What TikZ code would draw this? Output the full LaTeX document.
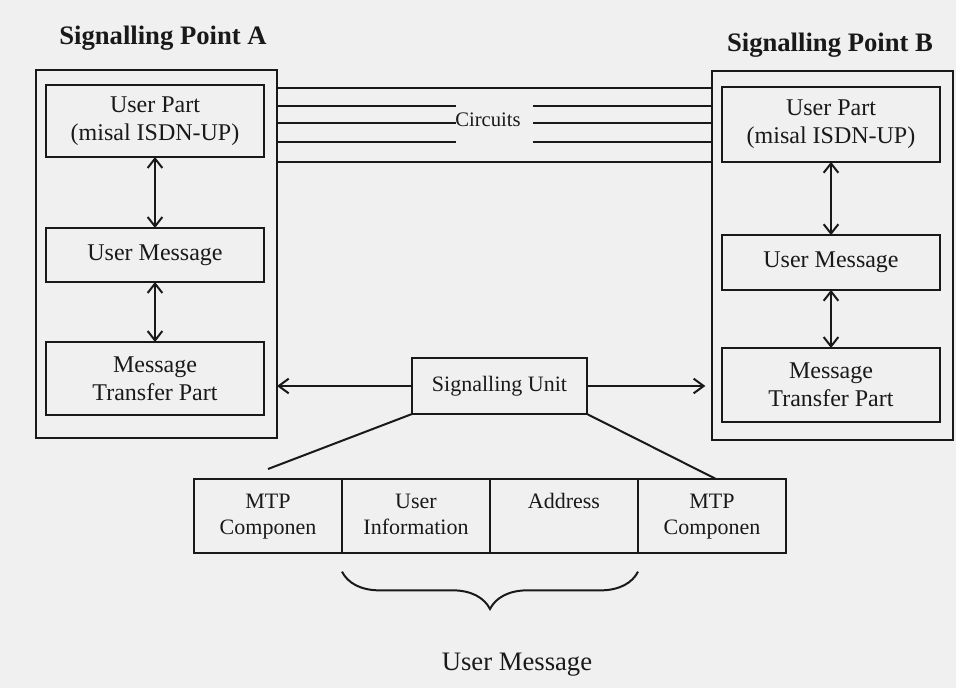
\documentclass[tikz,border=0pt]{standalone}
\usepackage{fontspec}
\setmainfont{Liberation Serif}
\usetikzlibrary{positioning, arrows.meta, decorations.pathreplacing}
\definecolor{paper}{RGB}{240,240,240}
\definecolor{ink}{RGB}{25,25,25}
\tikzstyle{point} = [rectangle, draw=ink, line width=1.5pt, outer sep=0pt, minimum width=180.75pt, minimum height=276pt]
\tikzstyle{layer} = [rectangle, draw=ink, line width=1.5pt, outer sep=0pt, minimum width=163pt, align=center, text=ink, font=\fontsize{18}{21}\selectfont]
\tikzstyle{field} = [rectangle, draw=ink, line width=1.5pt, outer sep=0pt, minimum width=111pt, minimum height=55.5pt, align=center, text=ink, font=\fontsize{16.5}{19.5}\selectfont]
\tikzstyle{title} = [text=ink, font=\fontsize{20}{24}\selectfont\bfseries]
\tikzstyle{wire} = [draw=ink, line width=1.5pt]
\tikzstyle{arrow} = [wire, {Straight Barb[length=7pt,width=11pt]}-{Straight Barb[length=7pt,width=11pt]}]
\tikzstyle{sarrow} = [wire, -{Straight Barb[length=7.5pt,width=11pt]}]

\begin{document}
\begin{tikzpicture}[x=0.75pt, y=-0.75pt]
\useasboundingbox[fill=paper] (0,0) rectangle (956,688);

% signalling point A
\node (titleA) [title] at (163,38) {Signalling Point A};
\node (pointA) [point] at (156.5,254) {};
\node (upA) [layer, minimum height=54pt] at (155,121) {User Part\\(misal ISDN-UP)};
\node (umA) [layer, minimum height=40.5pt] at (155,255) {User Message};
\node (mtpA) [layer, minimum height=54.75pt] at (155,378.5) {Message\\Transfer Part};

% signalling point B
\node (titleB) [title] at (830,45) {Signalling Point B};
\node (pointB) [point, minimum height=276.75pt] at (832.5,255.5) {};
\node (upB) [layer, minimum height=56pt] at (831,124.5) {User Part\\(misal ISDN-UP)};
\node (umB) [layer, minimum height=41pt] at (831,262.5) {User Message};
\node (mtpB) [layer, minimum height=55.5pt] at (831,385) {Message\\Transfer Part};

\draw [arrow] (upA.south) -- (umA.north);
\draw [arrow] (umA.south) -- (mtpA.north);
\draw [arrow] (upB.south) -- (umB.north);
\draw [arrow] (umB.south) -- (mtpB.north);

% circuits
\node (circ) [text=ink, font=\fontsize{15.5}{18}\selectfont] at (488,120) {Circuits};
\coordinate (gapL) at (456,0);
\coordinate (gapR) at (533,0);
\draw [wire] (pointA.east |- 0,88) -- (pointB.west |- 0,88);
\foreach \y in {106,123,142} {
  \draw [wire] (pointA.east |- 0,\y) -- (gapL |- 0,\y);
  \draw [wire] (gapR |- 0,\y) -- (pointB.west |- 0,\y);
}
\draw [wire] (pointA.east |- 0,162) -- (pointB.west |- 0,162);

% signalling unit
\node (su) [layer, minimum width=131.25pt, minimum height=42pt, font=\fontsize{16.5}{19.5}\selectfont] at (499.5,386) {Signalling Unit};
\draw [sarrow] (su.west) -- (su.west -| pointA.east);
\draw [sarrow] (su.east) -- ([xshift=-5pt]su.east -| pointB.west);

% fields of the unit
\node (mtp1) [field] at (268,516) {MTP\strut\\Componen\strut};
\node (info) [field, right=0pt of mtp1] {User\strut\\Information\strut};
\node (addr) [field, right=0pt of info] {Address\strut\\\strut};
\node (mtp2) [field, right=0pt of addr] {MTP\strut\\Componen\strut};
\draw [wire] (su.south west) -- ([yshift=7.5pt]mtp1.north);
\draw [wire] (su.south east) -- ([xshift=3pt]mtp2.north);

\draw [wire, decorate, decoration={brace, mirror, amplitude=28pt}] ([yshift=-14pt]info.south west) -- ([yshift=-14pt]addr.south east);
\node (umsg) [text=ink, font=\fontsize{20}{24}\selectfont] at (517,665) {User Message};

\end{tikzpicture}
\end{document}
